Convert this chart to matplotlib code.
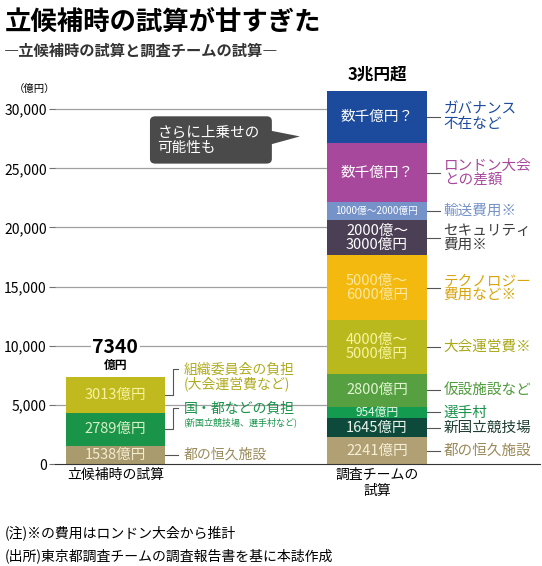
import matplotlib

matplotlib.use("Agg")
import matplotlib.pyplot as plt
from matplotlib.patches import FancyBboxPatch, Polygon

plt.rcParams["font.family"] = ["Noto Sans CJK JP", "DejaVu Sans"]

# data (億円). Ranges and "数千億円" drawn at their visual heights
left_vals = [1538, 2789, 3013]
left_text = ["1538億円", "2789億円", "3013億円"]
left_colors = ["#a99b6d", "#1a9448", "#c0ba1e"]
left_txtcol = ["#f3ecd0", "#d8f0c8", "#f6f2a0"]

right_vals = [2241, 1645, 954, 2800, 4500, 5500, 3000, 1500, 5000, 4400]
right_text = ["2241億円", "1645億円", "954億円", "2800億円", "4000億〜\n5000億円",
              "5000億〜\n6000億円", "2000億〜\n3000億円", "1000億〜2000億円",
              "数千億円？", "数千億円？"]
right_colors = ["#b0a073", "#0e4a3c", "#139b4f", "#57a042", "#b9b91d",
                "#f3b90e", "#4b3f55", "#7592c9", "#a8489d", "#1c4a9d"]
right_txtcol = ["#f6efd8", "#e8f4e8", "#e8f8e8", "#e0f4d0", "#f8f4a0",
                "#fbe8a0", "#ffffff", "#ffffff", "#ffffff", "#ffffff"]
right_labels = ["都の恒久施設", "新国立競技場", "選手村", "仮設施設など", "大会運営費※",
                "テクノロジー\n費用など※", "セキュリティ\n費用※", "輸送費用※",
                "ロンドン大会\nとの差額", "ガバナンス\n不在など"]
right_lblcol = ["#9a8a5a", "#1f3d33", "#18934a", "#4f9a3a", "#a9a818",
                "#d9a40c", "#3d3d3d", "#7592c9", "#a8489d", "#1c4a9d"]

ticks = [0, 5000, 10000, 15000, 20000, 25000, 30000]
x_labels = ["立候補時の試算", "調査チームの\n試算"]

fig = plt.figure(figsize=(5.42, 5.66), dpi=100)
ax = fig.add_axes([55 / 542, (566 - 464) / 566, 485 / 542, (464 - 91) / 566])
ax.set_xlim(-0.231, 1.623)
ax.set_ylim(0, sum(right_vals))
W = 0.379

for t in ticks[1:]:
    ax.plot([-0.231, 1 - W / 2], [t, t], color="#a0a0a0", lw=0.9, zorder=0)

bottom = 0
for v, txt, c, tc in zip(left_vals, left_text, left_colors, left_txtcol):
    ax.bar(0, v, W, bottom=bottom, color=c, zorder=2)
    ax.text(0, bottom + v / 2, txt, ha="center", va="center", color=tc, fontsize=10.5, zorder=3)
    bottom += v
ax.text(0, bottom + 2500, "7340", ha="center", va="center", fontsize=14, fontweight="bold",
        bbox=dict(facecolor="white", edgecolor="none", pad=1), zorder=3)
ax.text(0, bottom + 1000, "億円", ha="center", va="center", fontsize=8.5, fontweight="bold")

# left side annotations
ax.plot([W / 2, W / 2 + 0.05], [769, 769], color="#555555", lw=0.8)
ax.text(W / 2 + 0.07, 769, "都の恒久施設", va="center", fontsize=10, color="#9a8a5a")
ax.plot([W / 2, W / 2 + 0.03, W / 2 + 0.03, W / 2 + 0.05], [2930, 2930, 4700, 4700], color="#555555", lw=0.8)
ax.text(W / 2 + 0.07, 4700, "国・都などの負担", va="center", fontsize=10, color="#18934a")
ax.text(W / 2 + 0.07, 3500, "(新国立競技場、選手村など)", va="center", fontsize=6.5, color="#18934a")
ax.plot([W / 2, W / 2 + 0.03, W / 2 + 0.03, W / 2 + 0.05], [5850, 5850, 8000, 8000], color="#555555", lw=0.8)
ax.text(W / 2 + 0.07, 8000, "組織委員会の負担", va="center", fontsize=10, color="#b0ac20")
ax.text(W / 2 + 0.07, 6800, "(大会運営費など)", va="center", fontsize=10, color="#b0ac20")

bottom = 0
for v, txt, c, tc, lb, lc in zip(right_vals, right_text, right_colors, right_txtcol, right_labels, right_lblcol):
    ax.bar(1, v, W, bottom=bottom, color=c, zorder=2)
    fs = 7 if "1000億" in txt else (8.5 if v < 1000 else 10.5)
    ax.text(1, bottom + v / 2, txt, ha="center", va="center", color=tc, fontsize=fs,
            linespacing=1.0, zorder=3)
    ax.plot([1 + W / 2, 1 + W / 2 + 0.05], [bottom + v / 2] * 2, color="#555555", lw=0.8)
    ax.text(1 + W / 2 + 0.065, bottom + v / 2, lb, va="center", color=lc, fontsize=10.5, linespacing=1.0)
    bottom += v
ax.text(1, bottom + 600, "3兆円超", ha="center", va="bottom", fontsize=12, fontweight="bold")

# callout bubble
box = FancyBboxPatch((0.132, 25400), 0.466, 4000, boxstyle="round,pad=0,rounding_size=0.02",
                     facecolor="#4a4a4a", edgecolor="none", zorder=4, mutation_aspect=20000)
ax.add_patch(box)
ax.add_patch(Polygon([[0.59, 28200], [0.705, 27700], [0.59, 27000]], closed=True,
                     facecolor="#4a4a4a", edgecolor="none", zorder=4))
ax.text(0.16, 27400, "さらに上乗せの\n可能性も", va="center", color="white", fontsize=10.5,
        linespacing=1.1, zorder=5)

ax.set_yticks(ticks, [f"{t:,}" for t in ticks])
ax.set_xticks([0, 1], x_labels)
ax.tick_params(axis="y", length=4, color="#707070", labelsize=10, pad=2)
ax.tick_params(axis="x", length=0, labelsize=10, pad=3)
for s in ["top", "right", "left"]:
    ax.spines[s].set_visible(False)
ax.spines["bottom"].set_color("#333333")
ax.text(-0.231, 31300, "（億円）", ha="right", fontsize=7.5, transform=ax.transData, va="bottom")

fig.text(0.008, 0.985, "立候補時の試算が甘すぎた", fontsize=19, fontweight="bold", va="top")
fig.text(0.008, 0.925, "―立候補時の試算と調査チームの試算―", fontsize=11, fontweight="bold", va="top",
         color="#333333")
fig.text(0.008, 0.045, "(注)※の費用はロンドン大会から推計", fontsize=10, va="bottom")
fig.text(0.008, 0.005, "(出所)東京都調査チームの調査報告書を基に本誌作成", fontsize=10, va="bottom")

fig.savefig("out.png", dpi=100, facecolor="white")
